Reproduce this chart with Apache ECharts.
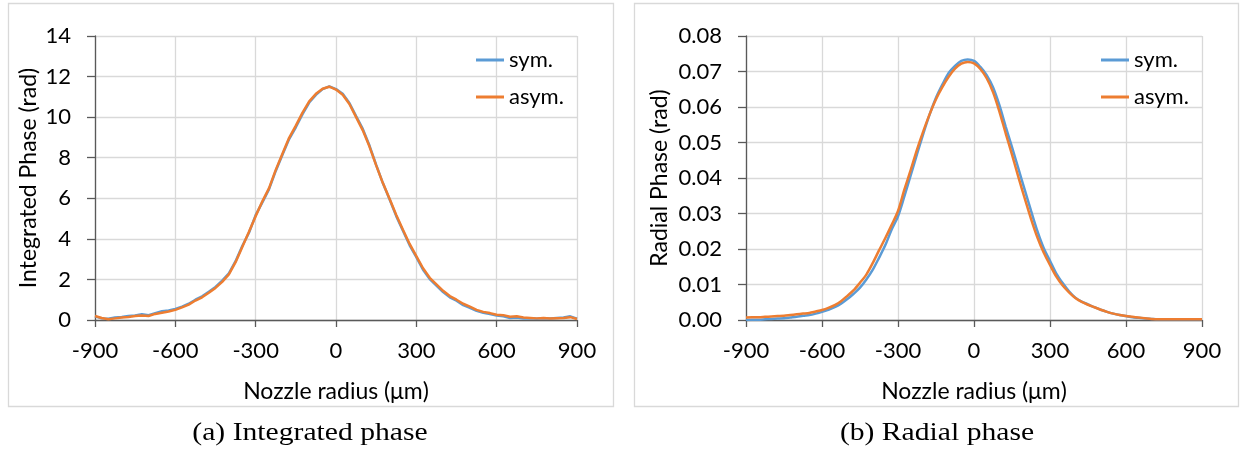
<!DOCTYPE html>
<html>
<head>
<meta charset="utf-8">
<script src="https://cdn.jsdelivr.net/npm/echarts@6/dist/echarts.min.js"></script>
<style>
html,body{margin:0;padding:0;background:#fff;}
#chart{width:1246px;height:450px;}
</style>
</head>
<body>
<div id="chart"></div>
<script>
// Nozzle radius (µm), step 25
var radius = [];
for (var r = -900; r <= 900; r += 25) radius.push(r);

var xTicks = [-900, -600, -300, 0, 300, 600, 900];
var seriesNames = ['sym.', 'asym.'];
var captions = ['(a) Integrated phase', '(b) Radial phase'];

// (a) Integrated phase (rad)
var symA = [0.18,0.08,0.06,0.12,0.15,0.2,0.22,0.28,0.24,0.34,0.43,0.47,0.55,0.66,0.8,1.0,1.17,1.39,1.63,1.94,2.3,2.9,3.65,4.3,5.17,5.8,6.45,7.35,8.15,8.92,9.5,10.15,10.72,11.1,11.38,11.52,11.38,11.15,10.7,10.05,9.42,8.6,7.65,6.75,5.95,5.12,4.4,3.68,3.1,2.48,2.02,1.7,1.38,1.12,0.95,0.73,0.6,0.45,0.36,0.3,0.22,0.18,0.1,0.12,0.07,0.09,0.06,0.09,0.07,0.1,0.12,0.18,0.07];
var asymA = [0.2,0.1,0.04,0.08,0.12,0.15,0.2,0.22,0.2,0.3,0.36,0.42,0.5,0.62,0.76,0.96,1.12,1.34,1.58,1.88,2.25,2.85,3.6,4.35,5.12,5.85,6.5,7.4,8.2,8.98,9.58,10.22,10.78,11.15,11.4,11.5,11.36,11.1,10.65,10.0,9.35,8.55,7.62,6.75,5.98,5.18,4.45,3.75,3.15,2.55,2.08,1.76,1.44,1.18,1.0,0.8,0.66,0.5,0.4,0.34,0.26,0.24,0.16,0.18,0.12,0.1,0.08,0.1,0.07,0.09,0.1,0.14,0.05];

// (b) Radial phase (rad)
var symB = [0.0000,0.0001,0.0001,0.0002,0.0003,0.0004,0.0005,0.0007,0.0009,0.0012,0.0014,0.0018,0.0023,0.0029,0.0036,0.0046,0.0059,0.0074,0.0091,0.0114,0.0141,0.0175,0.0211,0.0255,0.0292,0.0348,0.0407,0.0467,0.0525,0.0579,0.0626,0.0663,0.0696,0.0716,0.0730,0.0734,0.0730,0.0713,0.0690,0.0656,0.0606,0.0545,0.0487,0.0427,0.0367,0.0308,0.0251,0.0203,0.0167,0.0131,0.0104,0.0081,0.0063,0.0052,0.0044,0.0036,0.0029,0.0023,0.0018,0.0014,0.0011,0.0008,0.0006,0.0004,0.0003,0.0002,0.0002,0.0002,0.0002,0.0002,0.0002,0.0002,0.0002];
var asymB = [0.0007,0.0008,0.0008,0.0009,0.0010,0.0011,0.0012,0.0014,0.0016,0.0018,0.0020,0.0024,0.0028,0.0034,0.0042,0.0053,0.0068,0.0084,0.0105,0.0128,0.0160,0.0196,0.0231,0.0268,0.0307,0.0367,0.0422,0.0480,0.0532,0.0580,0.0622,0.0656,0.0685,0.0708,0.0722,0.0727,0.0723,0.0707,0.0681,0.0642,0.0588,0.0526,0.0466,0.0403,0.0343,0.0285,0.0233,0.0190,0.0155,0.0122,0.0097,0.0078,0.0062,0.0051,0.0043,0.0036,0.0029,0.0023,0.0018,0.0014,0.0011,0.0009,0.0007,0.0005,0.0003,0.0002,0.0002,0.0002,0.0002,0.0002,0.0002,0.0002,0.0002];

function zip(ys){ return radius.map(function(x,i){ return [x, ys[i]]; }); }

var FONT = 'Lato';
var BLUE = '#5B9BD5', ORANGE = '#ED7D31';
var GRID_C = '#d9d9d9', AXIS_C = '#595959';

function xAxisDef(idx){
  return {
    type:'value', gridIndex:idx, min:xTicks[0], max:xTicks[xTicks.length-1], interval:300,
    name:'Nozzle radius (\u03bcm)', nameLocation:'middle', nameGap:60,
    nameTextStyle:{fontFamily:FONT, fontSize:23, color:'#000'},
    axisLine:{show:true, onZero:false, lineStyle:{color:AXIS_C, width:1.3}},
    axisTick:{show:true, length:7, lineStyle:{color:AXIS_C, width:1.3}},
    axisLabel:{fontFamily:FONT, fontSize:22, color:'#000', margin:20},
    splitLine:{show:true, lineStyle:{color:GRID_C, width:1.3}}
  };
}
function yAxisDef(idx, name, max, interval, gap, fmt){
  return {
    type:'value', gridIndex:idx, min:0, max:max, interval:interval, position:'left',
    name:name, nameLocation:'middle', nameGap:gap, nameRotate:90,
    nameTextStyle:{fontFamily:FONT, fontSize:23, color:'#000'},
    axisLine:{show:true, onZero:false, lineStyle:{color:AXIS_C, width:1.3}},
    axisTick:{show:true, length:8, lineStyle:{color:AXIS_C, width:1.3}},
    axisLabel:{fontFamily:FONT, fontSize:22, color:'#000', margin:24, formatter:fmt},
    splitLine:{show:true, lineStyle:{color:GRID_C, width:1.3}}
  };
}
function lineSeries(name, idx, ys, color, smooth){
  return {
    type:'line', name:name, xAxisIndex:idx, yAxisIndex:idx, data:zip(ys),
    showSymbol:false, symbol:'none', smooth:smooth, animation:false,
    lineStyle:{color:color, width:2.5}, itemStyle:{color:color}
  };
}
function legendDef(left){
  return {
    orient:'vertical', left:left, top:44, itemWidth:28, itemHeight:3, itemGap:15,
    icon:'rect', selectedMode:false,
    textStyle:{fontFamily:FONT, fontSize:22, color:'#000'},
    data:seriesNames
  };
}
function caption(text, cx){
  return {type:'text', x:cx, y:433, scaleX:1.14, silent:true,
    style:{text:text, x:0, y:0, align:'center', verticalAlign:'middle', font:'26px "Liberation Serif"', fill:'#000'}};
}

var chart = echarts.init(document.getElementById('chart'), null, {renderer:'canvas'});
var option = {
  backgroundColor:'#fff',
  animation:false,
  grid:[
    {left:95, top:36, width:482, height:284},
    {left:746, top:36, width:456, height:284}
  ],
  xAxis:[xAxisDef(0), xAxisDef(1)],
  yAxis:[
    yAxisDef(0, 'Integrated Phase (rad)', 14, 2, 55, function(v){return String(v);}),
    yAxisDef(1, 'Radial Phase (rad)', 0.08, 0.01, 75, function(v){return v.toFixed(2);})
  ],
  legend:[legendDef(471), legendDef(1096)],
  series:[
    lineSeries(seriesNames[0], 0, symA, BLUE, false),
    lineSeries(seriesNames[1], 0, asymA, ORANGE, false),
    lineSeries(seriesNames[0], 1, symB, BLUE, 0.3),
    lineSeries(seriesNames[1], 1, asymB, ORANGE, 0.3)
  ],
  graphic:[
    {type:'rect', silent:true, shape:{x:8.5, y:3.5, width:605, height:403}, style:{fill:'none', stroke:GRID_C, lineWidth:1.3}},
    {type:'rect', silent:true, shape:{x:634.5, y:3.5, width:604, height:403}, style:{fill:'none', stroke:GRID_C, lineWidth:1.3}},
    caption(captions[0], 310),
    caption(captions[1], 937)
  ]
};
chart.setOption(option);
</script>
</body>
</html>
